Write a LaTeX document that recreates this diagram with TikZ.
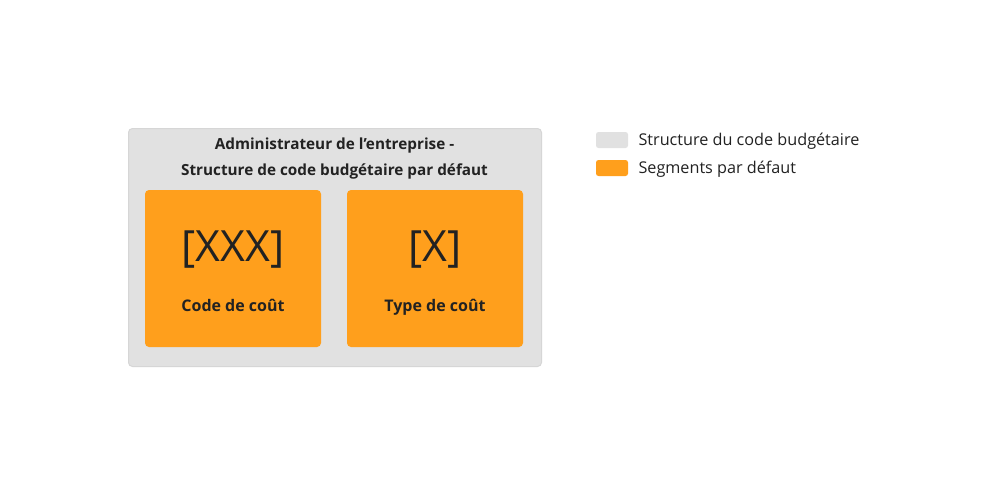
\documentclass[tikz,border=0pt]{standalone}
\usepackage{fontspec}
\setmainfont{Open Sans}
\definecolor{boxgray}{HTML}{E1E1E1}
\definecolor{boxedge}{HTML}{D6D6D6}
\definecolor{segorange}{HTML}{FF9F1C}
\definecolor{txt}{HTML}{222222}
\begin{document}
\begin{tikzpicture}[x=1pt,y=-1pt,
  outerbox/.style={draw=boxedge,line width=1pt,fill=boxgray,rounded corners=4pt},
  segbox/.style={fill=segorange,rounded corners=4pt},
  titletxt/.style={font=\fontsize{15.3}{26}\selectfont\bfseries,text=txt,align=center},
  bigtxt/.style={font=\fontsize{43}{46}\selectfont,text=txt},
  labtxt/.style={font=\fontsize{16}{18}\selectfont\bfseries,text=txt},
  legtxt/.style={font=\fontsize{16.2}{18}\selectfont,text=txt,anchor=west},
  swatch/.style={rounded corners=2.5pt}]
\useasboundingbox (0,0) rectangle (987,495);
\fill[white] (0,0) rectangle (987,495);
\path[outerbox] (128.5,128.5) rectangle (541.5,366.5);
\node[titletxt] (title) at (334.5,158.5) {Administrateur de l’entreprise -\\Structure de code budgétaire par défaut};
\path[segbox] (145,190) rectangle (321,347);
\path[segbox] (347,190) rectangle (523,347);
\node[bigtxt] (xxx) at (233,250) {[XXX]};
\node[labtxt] (code) at (233,305) {Code de coût};
\node[bigtxt] (x) at (435,250) {[X]};
\node[labtxt] (type) at (435,307) {Type de coût};
\path[swatch,fill=boxgray] (596,132) rectangle (628,148);
\node[legtxt] (leg1) at (635,141) {Structure du code budgétaire};
\path[swatch,fill=segorange] (596,160) rectangle (628,176);
\node[legtxt] (leg2) at (635,169) {Segments par défaut};
\end{tikzpicture}
\end{document}
